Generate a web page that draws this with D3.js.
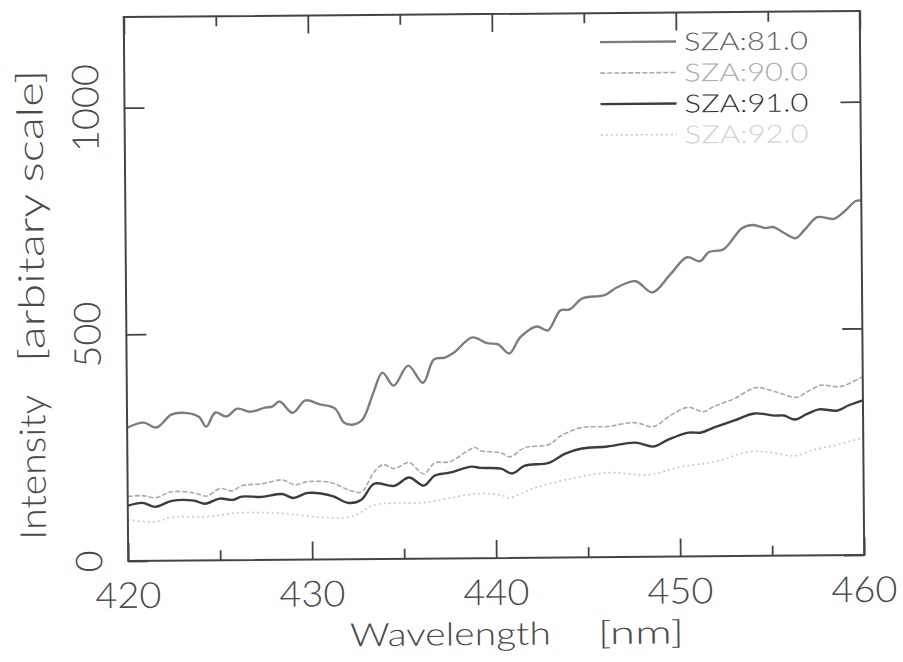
<!DOCTYPE html>
<html>
<head>
<meta charset="utf-8">
<script src="https://cdn.jsdelivr.net/npm/d3@7"></script>
<style>
  html, body { margin: 0; padding: 0; background: #fff; }
  svg { display: block; font-family: "Lato", "DejaVu Sans", sans-serif; }
</style>
</head>
<body>
<svg id="chart" width="903" height="662"></svg>
<script>
// Spectra: [wavelength (nm), intensity (arbitrary units)]
const sza81 = [[420.0,294],[420.9,305],[421.6,294],[422.4,322],[423.0,326],[423.9,317],[424.3,295],[424.8,326],[425.4,317],[426.0,334],[426.7,327],[427.5,336],[427.9,338],[428.3,349],[429.0,324],[429.7,351],[430.5,342],[431.3,333],[431.8,301],[432.3,297],[432.8,308],[433.4,367],[433.9,411],[434.5,382],[435.3,426],[436.1,388],[436.7,439],[437.3,443],[437.8,454],[438.8,487],[439.6,474],[440.2,471],[440.8,451],[441.4,486],[442.3,510],[442.9,501],[443.6,545],[444.1,547],[444.8,571],[446.0,578],[446.7,595],[447.7,608],[448.6,583],[449.6,623],[450.5,660],[451.2,651],[451.7,671],[452.5,677],[453.5,723],[454.1,730],[454.8,723],[455.2,725],[455.7,714],[456.4,700],[456.9,718],[457.6,746],[458.5,742],[459.1,759],[459.7,781],[460.0,782]];
const sza90 = [[420.0,142],[420.8,144],[421.5,139],[422.4,152],[423.6,149],[424.3,142],[425.0,158],[425.7,153],[426.2,164],[427.3,168],[428.4,176],[429.1,165],[429.8,172],[431.1,169],[432.0,153],[432.7,148],[433.4,192],[433.9,208],[434.5,199],[435.3,212],[436.1,187],[436.7,211],[437.5,213],[438.9,244],[439.2,237],[440.3,232],[440.8,223],[441.6,243],[442.9,249],[443.6,269],[444.7,286],[446.1,288],[447.6,296],[448.6,287],[449.6,313],[450.5,329],[451.3,319],[451.9,330],[453.0,347],[454.2,371],[455.2,362],[456.4,349],[456.9,359],[457.7,375],[458.8,372],[460.0,394]];
const sza91 = [[420.0,122],[420.8,128],[421.5,119],[422.4,132],[423.6,132],[424.2,125],[425.0,136],[425.7,133],[426.2,140],[427.3,139],[428.4,145],[429.0,136],[429.8,147],[431.1,140],[432.0,124],[432.7,131],[433.4,166],[434.5,161],[435.3,179],[436.1,161],[436.7,183],[437.5,189],[438.7,202],[439.2,199],[440.3,197],[440.9,186],[441.6,203],[442.9,209],[443.8,229],[444.7,240],[446.1,244],[447.6,252],[448.6,243],[449.4,258],[450.5,273],[451.2,273],[451.9,284],[453.0,299],[454.1,314],[455.2,309],[455.7,309],[456.3,300],[456.9,311],[457.6,322],[458.6,319],[459.2,330],[460.0,341]];
const sza92 = [[420.0,91],[421.5,86],[422.4,96],[424.2,96],[426.0,104],[427.8,104],[432.0,93],[433.4,119],[434.5,123],[436.0,123],[437.5,133],[438.9,142],[440.3,139],[440.7,132],[442.0,152],[443.8,171],[446.1,186],[448.3,181],[450.1,198],[451.9,208],[453.8,230],[454.8,229],[456.3,220],[457.3,233],[458.4,242],[460.0,259]];

const seriesNames = ["SZA:81.0", "SZA:90.0", "SZA:91.0", "SZA:92.0"];
const xMajorTicks = [420, 430, 440, 450, 460];
const xMinorTicks = [425, 435, 445, 455];
const yMajorTicks = [0, 500, 1000];

const series = [
  { name: seriesNames[0], data: sza81, stroke: "#7d7d7d", width: 2.4, dash: null,  text: "#5e5e5e" },
  { name: seriesNames[1], data: sza90, stroke: "#a9a9a9", width: 1.6, dash: "5,2", text: "#ababab" },
  { name: seriesNames[2], data: sza91, stroke: "#3c3c3c", width: 2.4, dash: null,  text: "#333333" },
  { name: seriesNames[3], data: sza92, stroke: "#c9c9c9", width: 1.6, dash: "2,3", text: "#d2d2d2" }
];

const frame = { left: 126, right: 862, top: 14, bottom: 558 };
const axisColor = "#444";
const digitWidth = 22;

const svg = d3.select("#chart");
const root = svg.append("g").attr("transform", "rotate(-0.47, 494, 288)");

const x = d3.scaleLinear().domain([420, 460]).range([frame.left, frame.right]);
const y = d3.scaleLinear().domain([0, 1200]).range([frame.bottom, frame.top]);

// Curves
const line = d3.line()
  .x(d => x(d[0]))
  .y(d => y(d[1]))
  .curve(d3.curveCatmullRom.alpha(0.5));

const plot = root.append("g");
series.slice().reverse().forEach(s => {
  plot.append("path")
    .datum(s.data)
    .attr("fill", "none")
    .attr("stroke", s.stroke)
    .attr("stroke-width", s.width)
    .attr("stroke-dasharray", s.dash)
    .attr("stroke-linejoin", "round")
    .attr("d", line);
});

// Tick marks on all four sides, drawn inward
function styleAxis(g) {
  g.select(".domain").remove();
  g.selectAll(".tick line").attr("stroke", axisColor).attr("stroke-width", 1.8);
  g.selectAll(".tick text").remove();
}
root.append("g").attr("transform", `translate(0,${frame.bottom})`)
  .call(d3.axisBottom(x).tickValues(xMajorTicks).tickSize(-18)).call(styleAxis);
root.append("g").attr("transform", `translate(0,${frame.bottom})`)
  .call(d3.axisBottom(x).tickValues(xMinorTicks).tickSize(-10)).call(styleAxis);
root.append("g").attr("transform", `translate(0,${frame.top})`)
  .call(d3.axisTop(x).tickValues(xMajorTicks).tickSize(-18)).call(styleAxis);
root.append("g").attr("transform", `translate(0,${frame.top})`)
  .call(d3.axisTop(x).tickValues(xMinorTicks).tickSize(-10)).call(styleAxis);
root.append("g").attr("transform", `translate(${frame.left},0)`)
  .call(d3.axisLeft(y).tickValues(yMajorTicks).tickSize(-20)).call(styleAxis);
root.append("g").attr("transform", `translate(${frame.right},0)`)
  .call(d3.axisRight(y).tickValues(yMajorTicks).tickSize(-20)).call(styleAxis);

// Frame
root.append("rect")
  .attr("x", frame.left).attr("y", frame.top)
  .attr("width", frame.right - frame.left).attr("height", frame.bottom - frame.top)
  .attr("fill", "none").attr("stroke", axisColor).attr("stroke-width", 2);

// Tick labels (monospaced digits)
const labelColor = "#4a4a4a";
root.append("g").selectAll("text")
  .data(xMajorTicks).join("text")
  .attr("x", d => x(d))
  .attr("y", frame.bottom + 47)
  .attr("text-anchor", "middle")
  .attr("font-size", 36).attr("font-weight", 300)
  .attr("textLength", d => String(d).length * digitWidth)
  .attr("lengthAdjust", "spacingAndGlyphs")
  .attr("fill", labelColor)
  .text(d => d);

root.append("g").selectAll("text")
  .data(yMajorTicks).join("text")
  .attr("transform", d => `translate(100,${y(d)}) rotate(-90)`)
  .attr("text-anchor", "middle")
  .attr("font-size", 37).attr("font-weight", 300)
  .attr("textLength", d => String(d).length * digitWidth)
  .attr("lengthAdjust", "spacingAndGlyphs")
  .attr("fill", labelColor)
  .text(d => d);

// Axis titles
function title(sel, str, len, size) {
  sel.attr("font-size", size).attr("font-weight", 300)
    .attr("textLength", len).attr("lengthAdjust", "spacingAndGlyphs")
    .attr("fill", labelColor).text(str);
}
root.append("text").attr("x", 347).attr("y", 645).call(title, "Wavelength", 201, 32);
root.append("text").attr("x", 595).attr("y", 645).call(title, "[nm]", 86, 32);

root.append("text")
  .attr("transform", "translate(44,536) rotate(-90)")
  .attr("text-anchor", "start")
  .call(title, "Intensity", 145, 36);
root.append("text")
  .attr("transform", "translate(44,358) rotate(-90)")
  .attr("text-anchor", "start")
  .call(title, "[arbitary scale]", 292, 36);

// Legend
const legend = root.append("g");
const rowY = d3.scalePoint().domain(seriesNames).range([43, 136]);
series.forEach(s => {
  const ry = rowY(s.name);
  legend.append("line")
    .attr("x1", 602).attr("x2", 678).attr("y1", ry).attr("y2", ry)
    .attr("stroke", s.stroke).attr("stroke-width", s.width)
    .attr("stroke-dasharray", s.dash);
  legend.append("text")
    .attr("x", 686).attr("y", ry)
    .attr("dy", "0.36em")
    .attr("font-size", 25).attr("font-weight", 300)
    .attr("textLength", 124).attr("lengthAdjust", "spacingAndGlyphs")
    .attr("fill", s.text)
    .text(s.name);
});
</script>
</body>
</html>
